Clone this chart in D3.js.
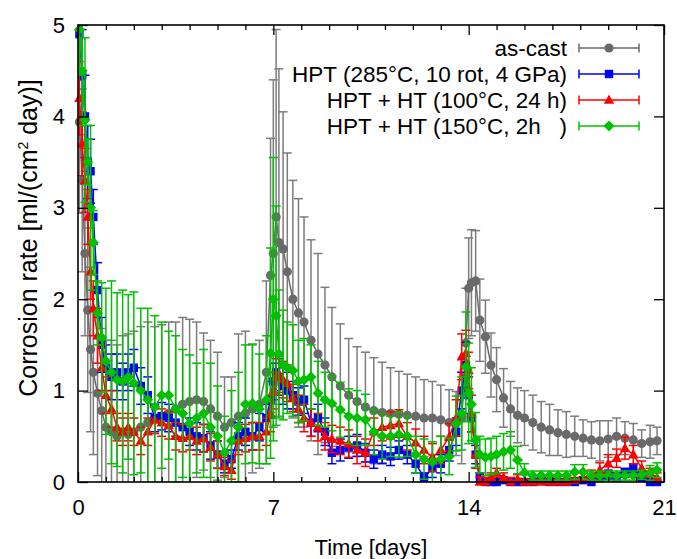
<!DOCTYPE html>
<html>
<head>
<meta charset="utf-8">
<script src="https://cdn.jsdelivr.net/npm/d3@7/dist/d3.min.js"></script>
<style>
  html, body { margin: 0; padding: 0; background: #fff; }
  svg { display: block; font-family: "Liberation Sans", Arial, sans-serif; }
</style>
</head>
<body>
<svg id="chart" width="677" height="559"></svg>
<script>
// ---- data ----
const days = [0.05,0.15,0.25,0.35,0.45,0.55,0.7,0.85,1.0,1.2,1.4,1.6,1.8,2.0,2.25,2.5,2.75,3.0,3.25,3.5,3.75,4.0,4.25,4.5,4.75,5.0,5.25,5.5,5.75,6.0,6.25,6.5,6.75,6.9,7.0,7.1,7.2,7.35,7.5,7.7,7.9,8.1,8.35,8.6,8.85,9.1,9.4,9.7,10.0,10.3,10.6,10.9,11.2,11.5,11.8,12.1,12.4,12.7,13.0,13.3,13.55,13.75,13.9,14.0,14.1,14.25,14.4,14.6,14.8,15.0,15.25,15.5,15.75,16.0,16.3,16.6,16.9,17.2,17.5,17.8,18.1,18.4,18.7,19.0,19.3,19.6,19.9,20.2,20.5,20.75];

const asCast = [3.94,3.3,2.5,1.88,1.45,1.2,0.97,0.78,0.6,0.55,0.5,0.55,0.52,0.55,0.6,0.65,0.7,0.72,0.75,0.8,0.85,0.88,0.9,0.88,0.8,0.72,0.6,0.65,0.72,0.75,0.8,0.85,1.2,2.26,2.5,2.9,2.62,2.55,2.3,2.0,1.85,1.75,1.55,1.4,1.28,1.15,1.05,0.95,0.88,0.82,0.78,0.76,0.75,0.74,0.73,0.72,0.7,0.7,0.68,0.65,0.64,0.7,1.52,2.12,2.18,2.2,1.77,1.59,1.28,1.12,0.92,0.8,0.73,0.7,0.65,0.6,0.57,0.54,0.52,0.5,0.48,0.46,0.45,0.47,0.5,0.48,0.46,0.42,0.44,0.45];
const asCastErr = [1.0,1.0,0.9,0.9,0.9,0.9,0.9,0.9,0.95,1.0,1.0,1.05,1.1,1.1,1.1,1.1,1.0,1.0,1.0,0.95,0.95,0.9,0.85,0.75,0.75,0.7,0.55,0.5,0.9,0.9,0.7,0.7,1.0,1.5,1.9,2.05,1.9,1.5,1.3,1.3,1.25,1.15,1.1,1.1,0.85,0.76,0.68,0.62,0.6,0.6,0.58,0.55,0.5,0.47,0.45,0.43,0.42,0.4,0.38,0.36,0.35,0.5,0.6,0.55,0.58,0.55,0.45,0.4,0.35,0.35,0.32,0.3,0.3,0.3,0.3,0.28,0.28,0.25,0.25,0.22,0.2,0.2,0.22,0.2,0.2,0.18,0.18,0.15,0.18,0.15];

const hpt = [4.9,4.45,4.0,3.5,3.4,2.9,2.1,1.5,1.25,1.15,1.2,1.1,1.2,1.25,1.05,0.95,0.7,0.72,0.7,0.65,0.6,0.55,0.5,0.48,0.4,0.3,0.2,0.25,0.5,0.55,0.5,0.6,0.7,0.9,1.1,1.2,1.15,1.05,1.0,0.95,0.88,0.9,0.65,0.7,0.55,0.32,0.35,0.38,0.4,0.32,0.25,0.3,0.28,0.35,0.3,0.2,0.05,0.15,0.2,0.35,0.55,1.0,1.28,0.95,0.7,0.3,0.05,0.0,0.0,0.0,0.02,0.0,0.0,0.0,0.0,0.02,0.0,0.0,0.0,0.0,0.02,0.0,0.05,0.08,0.05,0.1,0.15,0.05,0.0,0.0];
const hptErr = [0.5,0.5,0.45,0.4,0.35,0.3,0.3,0.3,0.25,0.25,0.2,0.2,0.2,0.2,0.2,0.2,0.15,0.15,0.15,0.15,0.15,0.15,0.15,0.15,0.15,0.15,0.1,0.1,0.15,0.15,0.15,0.15,0.15,0.2,0.2,0.2,0.2,0.2,0.2,0.15,0.15,0.15,0.15,0.15,0.15,0.12,0.12,0.12,0.12,0.1,0.1,0.1,0.1,0.1,0.1,0.1,0.05,0.1,0.1,0.12,0.15,0.2,0.25,0.2,0.15,0.1,0.05,0.02,0.02,0.02,0.03,0.02,0.02,0.02,0.02,0.03,0.02,0.02,0.02,0.02,0.03,0.02,0.05,0.05,0.05,0.05,0.05,0.05,0.02,0.02];

const ht100 = [4.2,3.7,3.3,2.9,2.3,1.9,1.6,1.25,0.95,0.8,0.6,0.55,0.6,0.55,0.45,0.55,0.68,0.65,0.62,0.5,0.48,0.5,0.45,0.48,0.38,0.3,0.17,0.13,0.45,0.48,0.5,0.5,0.55,0.75,1.0,1.15,1.18,1.12,1.08,0.92,0.8,0.7,0.65,0.6,0.5,0.47,0.45,0.42,0.35,0.32,0.55,0.6,0.62,0.64,0.5,0.43,0.35,0.27,0.35,0.49,0.7,1.37,1.41,1.22,0.75,0.3,0.0,0.0,0.05,0.1,0.05,0.0,0.03,0.0,0.0,0.0,0.0,0.0,0.0,0.02,0.05,0.08,0.13,0.2,0.26,0.37,0.3,0.15,0.1,0.05];
const ht100Err = [0.4,0.35,0.35,0.3,0.3,0.3,0.3,0.25,0.2,0.2,0.15,0.15,0.15,0.15,0.15,0.15,0.15,0.15,0.15,0.15,0.15,0.15,0.15,0.15,0.15,0.15,0.1,0.1,0.15,0.15,0.15,0.15,0.15,0.2,0.2,0.2,0.2,0.2,0.2,0.15,0.15,0.15,0.15,0.15,0.15,0.15,0.15,0.15,0.15,0.15,0.15,0.15,0.15,0.15,0.15,0.15,0.15,0.15,0.15,0.15,0.2,0.25,0.25,0.2,0.2,0.15,0.05,0.05,0.05,0.05,0.05,0.05,0.05,0.03,0.03,0.03,0.03,0.03,0.03,0.03,0.05,0.05,0.08,0.1,0.1,0.12,0.1,0.08,0.05,0.05];

const ht150 = [4.95,4.5,3.96,3.5,3.0,2.62,1.85,1.58,1.32,1.2,1.12,1.1,1.15,1.08,1.0,0.9,0.82,0.95,0.95,0.8,0.75,0.64,0.7,0.75,0.6,0.5,0.32,0.45,0.6,0.85,0.86,0.8,0.9,1.41,2.0,1.82,1.4,1.28,1.25,1.22,1.1,1.12,1.15,0.97,0.9,0.86,0.79,0.72,0.7,0.68,0.55,0.5,0.5,0.52,0.5,0.3,0.25,0.22,0.25,0.28,0.64,0.75,1.26,0.97,0.85,0.46,0.3,0.27,0.28,0.3,0.33,0.35,0.24,0.1,0.07,0.07,0.07,0.07,0.07,0.11,0.11,0.07,0.07,0.07,0.07,0.07,0.07,0.08,0.1,0.13];
const ht150Err = [0.5,0.6,0.9,0.25,0.9,0.35,0.35,0.6,0.8,1.0,0.95,1.0,0.9,1.0,0.9,1.0,1.0,0.8,0.7,0.8,0.7,0.75,0.6,0.7,0.7,0.55,0.4,0.55,0.6,0.65,0.65,0.6,0.7,1.15,1.55,1.2,0.7,0.6,0.5,0.5,0.45,0.45,0.35,0.35,0.3,0.3,0.3,0.3,0.3,0.28,0.25,0.25,0.22,0.25,0.22,0.2,0.22,0.22,0.25,0.2,0.3,0.4,0.6,0.55,0.4,0.3,0.2,0.2,0.2,0.2,0.2,0.2,0.15,0.1,0.05,0.05,0.05,0.05,0.05,0.08,0.08,0.05,0.05,0.05,0.05,0.05,0.05,0.05,0.08,0.08];

const seriesNames = ["as-cast", "HPT (285°C, 10 rot, 4 GPa)", "HPT + HT (100°C, 24 h)", "HPT + HT (150°C, 2h   )"];
const xTickLabels = [0, 7, 14, 21];
const yTickLabels = [0, 1, 2, 3, 4, 5];

// ---- layout ----
const FONT = "Liberation Sans, Arial, sans-serif";
const FS = 22;
const svg = d3.select("#chart");
const L = 78, R = 664, T = 25, B = 482;
const x = d3.scaleLinear().domain([0, 21]).range([L, R]);
const y = d3.scaleLinear().domain([0, 5]).range([B, T]);

const styles = [
  {color: "#6a6a6a", errColor: "#7c7c7c", shape: "circle"},
  {color: "#0000ff", errColor: "#0000ff", shape: "square"},
  {color: "#ff0000", errColor: "#ff0000", shape: "triangle"},
  {color: "#00c000", errColor: "#00c000", shape: "diamond"}
];
const series = [
  {name: seriesNames[0], v: asCast, e: asCastErr},
  {name: seriesNames[1], v: hpt, e: hptErr},
  {name: seriesNames[2], v: ht100, e: ht100Err},
  {name: seriesNames[3], v: ht150, e: ht150Err}
];

function marker(g, shape, color, cx, cy) {
  if (shape === "circle") {
    g.append("circle").attr("cx", cx).attr("cy", cy).attr("r", 4.6).attr("fill", color);
  } else if (shape === "square") {
    g.append("rect").attr("x", cx - 4.2).attr("y", cy - 4.2).attr("width", 8.4).attr("height", 8.4).attr("fill", color);
  } else if (shape === "triangle") {
    g.append("path").attr("d", `M${cx},${cy - 5.5}L${cx + 5.2},${cy + 3.8}L${cx - 5.2},${cy + 3.8}Z`).attr("fill", color);
  } else {
    g.append("path").attr("d", `M${cx},${cy - 5.5}L${cx + 5.5},${cy}L${cx},${cy + 5.5}L${cx - 5.5},${cy}Z`).attr("fill", color);
  }
}

svg.append("defs").append("clipPath").attr("id", "clip")
  .append("rect").attr("x", L).attr("y", T).attr("width", R - L).attr("height", B - T);

const plotAll = svg.append("g");

series.forEach((s, si) => {
  const st = styles[si];
  const gc = plotAll.append("g").attr("clip-path", "url(#clip)");
  const gm = plotAll.append("g");
  const pts = days.map((d, i) => ({d, v: s.v[i], e: s.e[i]}));
  pts.forEach(p => {
    const cx = x(p.d), y1 = y(p.v - p.e), y2 = y(p.v + p.e);
    gc.append("line").attr("x1", cx).attr("x2", cx).attr("y1", y1).attr("y2", y2)
      .attr("stroke", st.errColor).attr("stroke-width", 1.5);
    [y1, y2].forEach(yy => gc.append("line").attr("x1", cx - 4.5).attr("x2", cx + 4.5)
      .attr("y1", yy).attr("y2", yy).attr("stroke", st.errColor).attr("stroke-width", 1.5));
  });
  gc.append("path").datum(pts)
    .attr("d", d3.line().x(p => x(p.d)).y(p => y(p.v)))
    .attr("fill", "none").attr("stroke", st.color).attr("stroke-width", 1.5);
  pts.forEach(p => marker(gm, st.shape, st.color, x(p.d), y(p.v)));
});

// ---- axes ----
const axG = svg.append("g");
function styleAxis(sel) {
  sel.select(".domain").remove();
  sel.selectAll(".tick line").attr("stroke", "#000").attr("stroke-width", 1.3);
  sel.selectAll(".tick text").attr("font-size", FS).attr("fill", "#000").attr("font-family", FONT);
}
const minorX = d3.range(0, 22).filter(d => d % 7 !== 0);
axG.append("g").attr("transform", `translate(0,${B})`)
  .call(d3.axisBottom(x).tickValues(minorX).tickSize(-5).tickFormat(""))
  .call(styleAxis);
axG.append("g").attr("transform", `translate(0,${T})`)
  .call(d3.axisTop(x).tickValues(minorX).tickSize(-5).tickFormat(""))
  .call(styleAxis);
axG.append("g").attr("transform", `translate(0,${B})`)
  .call(d3.axisBottom(x).tickValues(xTickLabels).tickSizeInner(-10).tickSizeOuter(0).tickPadding(17).tickFormat(d3.format("d")))
  .call(styleAxis);
axG.append("g").attr("transform", `translate(0,${T})`)
  .call(d3.axisTop(x).tickValues(xTickLabels).tickSizeInner(-10).tickFormat(""))
  .call(styleAxis);
axG.append("g").attr("transform", `translate(${L},0)`)
  .call(d3.axisLeft(y).tickValues(yTickLabels).tickSizeInner(-10).tickPadding(13).tickFormat(d3.format("d")))
  .call(styleAxis);
axG.append("g").attr("transform", `translate(${R},0)`)
  .call(d3.axisRight(y).tickValues(yTickLabels).tickSizeInner(-10).tickFormat(""))
  .call(styleAxis);

svg.append("rect").attr("x", L).attr("y", T).attr("width", R - L).attr("height", B - T)
  .attr("fill", "none").attr("stroke", "#000").attr("stroke-width", 1.6);

// axis titles
svg.append("text").attr("x", (L + R) / 2).attr("y", 555).attr("text-anchor", "middle")
  .attr("font-family", FONT).attr("font-size", FS).attr("fill", "#000").text("Time [days]");
const yt = svg.append("text").attr("transform", "translate(37,238) rotate(-90)")
  .attr("text-anchor", "middle").attr("font-family", FONT).attr("font-size", 25).attr("fill", "#000");
yt.append("tspan").text("Corrosion rate [ml/(cm");
yt.append("tspan").attr("font-size", 14).attr("dy", -9).text("2");
yt.append("tspan").attr("dy", 9).text(" day)]");

// ---- legend ----
const leg = svg.append("g");
const rowY = [48, 74, 100, 126];
series.forEach((s, si) => {
  const st = styles[si];
  const yy = rowY[si];
  leg.append("text").attr("x", 567).attr("y", yy + 8).attr("text-anchor", "end")
    .attr("font-family", FONT).attr("font-size", 22.5).attr("fill", "#000")
    .attr("xml:space", "preserve").style("white-space", "pre").text(s.name);
  leg.append("line").attr("x1", 579).attr("x2", 639).attr("y1", yy).attr("y2", yy)
    .attr("stroke", st.color).attr("stroke-width", 1.5);
  [579, 639].forEach(xx => leg.append("line").attr("x1", xx).attr("x2", xx)
    .attr("y1", yy - 4.5).attr("y2", yy + 4.5).attr("stroke", st.color).attr("stroke-width", 1.5));
  marker(leg, st.shape, st.color, 609, yy);
});
</script>
</body>
</html>
